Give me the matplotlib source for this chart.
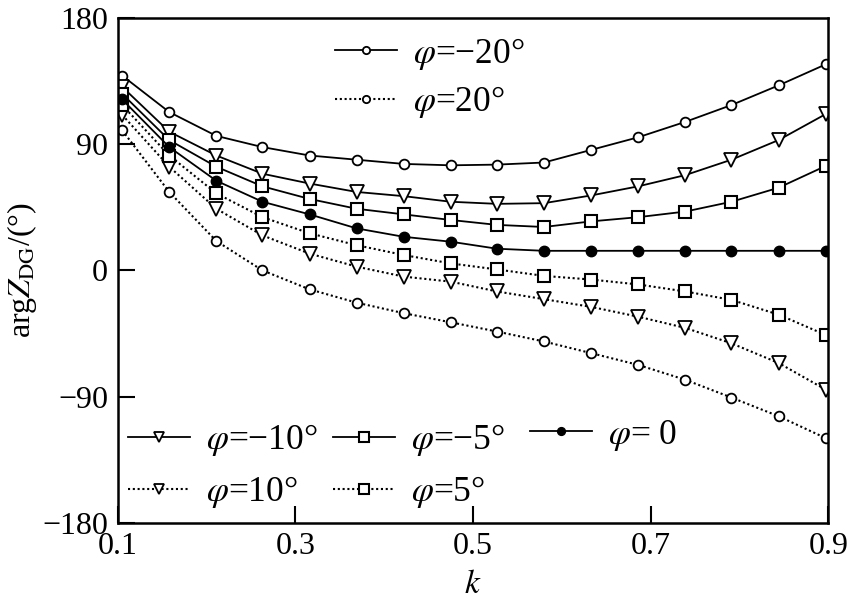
import matplotlib
matplotlib.use("Agg")
import matplotlib.pyplot as plt

plt.rcParams['font.family'] = ['Liberation Serif', 'DejaVu Serif']
plt.rcParams['mathtext.fontset'] = 'stix'

k = [0.105, 0.158, 0.211, 0.263, 0.316, 0.369, 0.422, 0.475,
     0.527, 0.580, 0.633, 0.686, 0.739, 0.791, 0.844, 0.897]

phi_m20 = [139, 113, 96, 88, 82, 79, 76, 75, 75.5, 77, 86, 95, 106, 118, 132, 147]
phi_m10 = [131, 99, 82, 69, 62, 56, 53, 49, 47.5, 48, 53.5, 60, 68, 79, 93, 111.5]
phi_m5 = [126, 93, 74, 60, 51, 44, 40, 36, 32.5, 31, 35, 38, 42, 49, 59, 74.5]
phi_0 = [122, 88, 64, 49, 40, 30, 24, 20.5, 15.5, 14, 14, 14, 14, 14, 14, 14]
phi_p5 = [118, 82, 55, 38, 26.5, 18, 11, 5, 0.7, -3.9, -6.5, -10, -15, -21, -31.5, -46]
phi_p10 = [111, 74, 44, 25, 12, 2.7, -4.4, -8, -15, -20.5, -26, -33, -41, -52, -66, -85]
phi_p20 = [100, 56, 21, 0, -13.5, -23, -30.5, -37, -43.6, -50.7, -59, -67.4, -78, -90.7, -104, -119.6]

x_ticks = [0.1, 0.3, 0.5, 0.7, 0.9]
y_ticks = [-180, -90, 0, 90, 180]
y_tick_labels = ["\u2212180", "\u221290", "0", "90", "180"]

fig = plt.figure(figsize=(8.53, 6.05), dpi=100)
ax = fig.add_axes([0.138, 0.136, 0.833, 0.834])

solid = dict(color='black', linewidth=1.3, linestyle='-')
dotted = dict(color='black', linewidth=1.5, linestyle=(0, (1, 1.3)))
mk_c = dict(marker='o', markersize=7, markerfacecolor='white', markeredgecolor='black', markeredgewidth=1.3)
mk_t = dict(marker='v', markersize=10, markerfacecolor='white', markeredgecolor='black', markeredgewidth=1.3)
mk_s = dict(marker='s', markersize=9, markerfacecolor='white', markeredgecolor='black', markeredgewidth=1.5)
mk_f = dict(marker='o', markersize=7.5, markerfacecolor='black', markeredgecolor='black', markeredgewidth=1.0)

h_m20, = ax.plot(k, phi_m20, **solid, **mk_c, zorder=3)
h_p20, = ax.plot(k, phi_p20, **dotted, **mk_c, zorder=3)
h_m10, = ax.plot(k, phi_m10, **solid, **mk_t, zorder=3)
h_p10, = ax.plot(k, phi_p10, **dotted, **mk_t, zorder=3)
h_m5, = ax.plot(k, phi_m5, **solid, **mk_s, zorder=3)
h_p5, = ax.plot(k, phi_p5, **dotted, **mk_s, zorder=3)
h_0, = ax.plot(k, phi_0, **solid, **mk_f, zorder=3)

ax.set_xlim(0.1, 0.9)
ax.set_ylim(-180, 180)
ax.set_xticks(x_ticks)
ax.set_xticklabels([f"{v:.1f}" for v in x_ticks])
ax.set_yticks(y_ticks)
ax.set_yticklabels(y_tick_labels)
ax.tick_params(direction='in', length=12, width=1.5, labelsize=23,
               top=False, right=False, pad=7)
for s in ax.spines.values():
    s.set_linewidth(1.8)
    s.set_zorder(4)

ax.set_xlabel(r"$k$", fontsize=24, labelpad=6)
ax.set_ylabel(r"arg$Z_{\mathrm{DG}}$/(°)", fontsize=23, labelpad=2)

leg_kw = dict(frameon=False, fontsize=25.5, handlelength=1.75, handletextpad=0.45,
              borderpad=0.0, borderaxespad=0.0, markerscale=0.75)

def lab(v):
    return r"$\varphi$=" + v

leg1 = ax.legend([h_m20, h_p20], [lab("\u221220°"), lab("20°")],
                 loc='upper left', bbox_to_anchor=(0.306, 0.965),
                 labelspacing=0.35, **leg_kw)
ax.add_artist(leg1)

leg2 = ax.legend([h_m10, h_p10, h_m5, h_p5],
                 [lab("\u221210°"), lab("10°"), lab("\u22125°"), lab("5°")],
                 loc='upper left', bbox_to_anchor=(0.014, 0.199), ncol=2,
                 columnspacing=0.45, labelspacing=0.45, **leg_kw)
ax.add_artist(leg2)

leg3 = ax.legend([h_0], [lab(" 0")],
                 loc='upper left', bbox_to_anchor=(0.58, 0.208), **leg_kw)

fig.savefig("out.png", dpi=100, facecolor='white')
